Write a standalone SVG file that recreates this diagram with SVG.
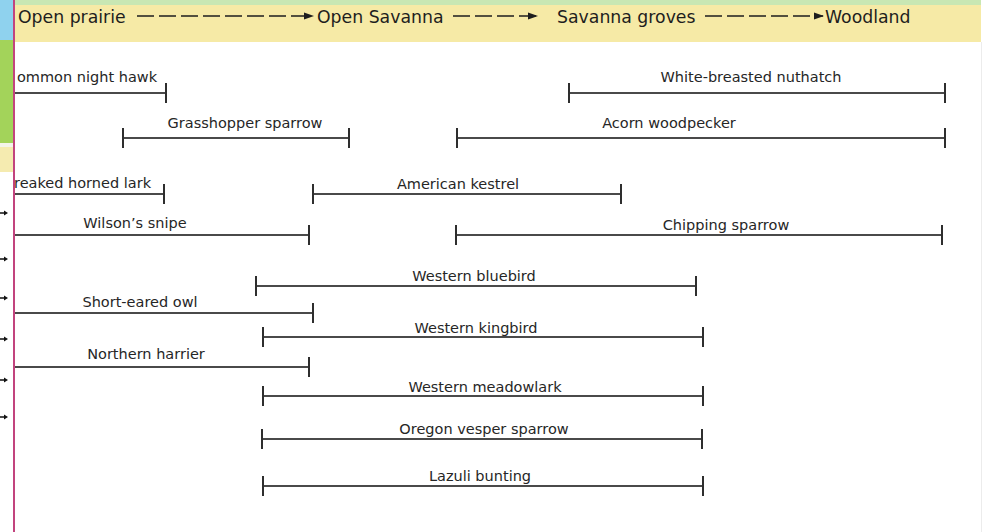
<svg xmlns="http://www.w3.org/2000/svg" width="991" height="532" viewBox="0 0 991 532">
<style>
.hdr{font-family:"DejaVu Sans","Liberation Sans",sans-serif;font-size:17.3px;fill:#1e1e1e}
.lbl{font-family:"DejaVu Sans","Liberation Sans",sans-serif;font-size:14.5px;fill:#262626;text-anchor:middle}
.lbl.l{text-anchor:start}
.bar{stroke:#4a4a4a;stroke-width:2.2;fill:none}
.tick{stroke:#2e2e2e;stroke-width:2;fill:none}
.dash{stroke:#1e1e1e;stroke-width:1.6;stroke-dasharray:17 5;fill:none}
</style>
<defs>
<marker id="ah" markerWidth="10" markerHeight="8" refX="9" refY="4" orient="auto" markerUnits="userSpaceOnUse">
<path d="M0,0.5 L10,4 L0,7.5 Z" fill="#1e1e1e"/>
</marker>
</defs>
<rect x="0" y="0" width="991" height="532" fill="#ffffff"/>
<!-- header band -->
<g id="header">
<rect x="14" y="0" width="967" height="5" fill="#c8e7b3"/>
<rect x="14" y="5" width="967" height="37" fill="#f6eaa6"/>
<line x1="981.5" y1="42" x2="981.5" y2="532" stroke="#ececec" stroke-width="1"/>
<text class="hdr" x="18" y="23">Open prairie</text>
<text class="hdr" x="317" y="23">Open Savanna</text>
<text class="hdr" x="557" y="23">Savanna groves</text>
<text class="hdr" x="825" y="23">Woodland</text>
</g>
<!-- left strip -->
<g id="leftstrip">
<rect x="0" y="0" width="13" height="40" fill="#8fd2ee"/>
<rect x="0" y="40" width="13" height="103" fill="#a3d35a"/>
<rect x="0" y="143" width="13" height="4" fill="#f4f4ea"/>
<rect x="0" y="147" width="13" height="25" fill="#f5ebb0"/>
<g fill="#111">
<path d="M0,212.3 L4,212.3 L4,210.5 L8,213 L4,215.5 L4,213.7 L0,213.7 Z"/>
<path d="M0,258.3 L4,258.3 L4,256.5 L8,259 L4,261.5 L4,259.7 L0,259.7 Z"/>
<path d="M0,297.3 L4,297.3 L4,295.5 L8,298 L4,300.5 L4,298.7 L0,298.7 Z"/>
<path d="M0,338.3 L4,338.3 L4,336.5 L8,339 L4,341.5 L4,339.7 L0,339.7 Z"/>
<path d="M0,379.3 L4,379.3 L4,377.5 L8,380 L4,382.5 L4,380.7 L0,380.7 Z"/>
<path d="M0,416.3 L4,416.3 L4,414.5 L8,417 L4,419.5 L4,417.7 L0,417.7 Z"/>
</g>
<line x1="14" y1="0" x2="14" y2="532" stroke="#c2447e" stroke-width="2"/>
</g>
<!-- connectors -->
<g id="connectors">
<line class="dash" x1="137" y1="16" x2="313" y2="16" marker-end="url(#ah)"/>
<line class="dash" x1="453" y1="16" x2="537" y2="16" marker-end="url(#ah)"/>
<line class="dash" x1="705" y1="16" x2="823" y2="16" marker-end="url(#ah)"/>
</g>
<!-- bars -->
<g id="common-night-hawk">
<line class="bar" x1="15" y1="93" x2="166" y2="93"/>
<line class="tick" x1="166" y1="83" x2="166" y2="103"/>
<text class="lbl l" x="17" y="82">ommon night hawk</text>
</g>
<g id="white-breasted-nuthatch">
<line class="bar" x1="569" y1="93" x2="945" y2="93"/>
<line class="tick" x1="569" y1="83" x2="569" y2="103"/>
<line class="tick" x1="945" y1="83" x2="945" y2="103"/>
<text class="lbl" x="751" y="82">White-breasted nuthatch</text>
</g>
<g id="grasshopper-sparrow">
<line class="bar" x1="123" y1="138" x2="349" y2="138"/>
<line class="tick" x1="123" y1="128" x2="123" y2="148"/>
<line class="tick" x1="349" y1="128" x2="349" y2="148"/>
<text class="lbl" x="245" y="128">Grasshopper sparrow</text>
</g>
<g id="acorn-woodpecker">
<line class="bar" x1="457" y1="138" x2="945" y2="138"/>
<line class="tick" x1="457" y1="128" x2="457" y2="148"/>
<line class="tick" x1="945" y1="128" x2="945" y2="148"/>
<text class="lbl" x="669" y="128">Acorn woodpecker</text>
</g>
<g id="streaked-horned-lark">
<line class="bar" x1="15" y1="194" x2="164" y2="194"/>
<line class="tick" x1="164" y1="184" x2="164" y2="204"/>
<text class="lbl l" x="14" y="188">reaked horned lark</text>
</g>
<g id="american-kestrel">
<line class="bar" x1="313" y1="194" x2="621" y2="194"/>
<line class="tick" x1="313" y1="184" x2="313" y2="204"/>
<line class="tick" x1="621" y1="184" x2="621" y2="204"/>
<text class="lbl" x="458" y="189">American kestrel</text>
</g>
<g id="wilsons-snipe">
<line class="bar" x1="15" y1="235" x2="309" y2="235"/>
<line class="tick" x1="309" y1="225" x2="309" y2="245"/>
<text class="lbl" x="135" y="228">Wilson’s snipe</text>
</g>
<g id="chipping-sparrow">
<line class="bar" x1="456" y1="235" x2="942" y2="235"/>
<line class="tick" x1="456" y1="225" x2="456" y2="245"/>
<line class="tick" x1="942" y1="225" x2="942" y2="245"/>
<text class="lbl" x="726" y="230">Chipping sparrow</text>
</g>
<g id="western-bluebird">
<line class="bar" x1="256" y1="286" x2="696" y2="286"/>
<line class="tick" x1="256" y1="276" x2="256" y2="296"/>
<line class="tick" x1="696" y1="276" x2="696" y2="296"/>
<text class="lbl" x="474" y="281">Western bluebird</text>
</g>
<g id="short-eared-owl">
<line class="bar" x1="15" y1="313" x2="313" y2="313"/>
<line class="tick" x1="313" y1="303" x2="313" y2="323"/>
<text class="lbl" x="140" y="307">Short-eared owl</text>
</g>
<g id="western-kingbird">
<line class="bar" x1="263" y1="337" x2="703" y2="337"/>
<line class="tick" x1="263" y1="327" x2="263" y2="347"/>
<line class="tick" x1="703" y1="327" x2="703" y2="347"/>
<text class="lbl" x="476" y="333">Western kingbird</text>
</g>
<g id="northern-harrier">
<line class="bar" x1="15" y1="367" x2="309" y2="367"/>
<line class="tick" x1="309" y1="357" x2="309" y2="377"/>
<text class="lbl" x="146" y="359">Northern harrier</text>
</g>
<g id="western-meadowlark">
<line class="bar" x1="263" y1="396" x2="703" y2="396"/>
<line class="tick" x1="263" y1="386" x2="263" y2="406"/>
<line class="tick" x1="703" y1="386" x2="703" y2="406"/>
<text class="lbl" x="485" y="392">Western meadowlark</text>
</g>
<g id="oregon-vesper-sparrow">
<line class="bar" x1="262" y1="439" x2="702" y2="439"/>
<line class="tick" x1="262" y1="429" x2="262" y2="449"/>
<line class="tick" x1="702" y1="429" x2="702" y2="449"/>
<text class="lbl" x="484" y="434">Oregon vesper sparrow</text>
</g>
<g id="lazuli-bunting">
<line class="bar" x1="263" y1="486" x2="703" y2="486"/>
<line class="tick" x1="263" y1="476" x2="263" y2="496"/>
<line class="tick" x1="703" y1="476" x2="703" y2="496"/>
<text class="lbl" x="480" y="481">Lazuli bunting</text>
</g>
</svg>
